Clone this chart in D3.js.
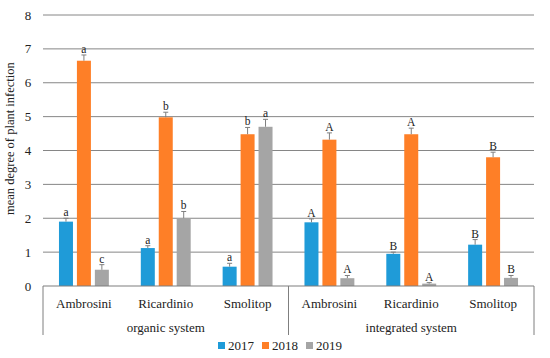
<!DOCTYPE html>
<html>
<head>
<meta charset="utf-8">
<script src="https://cdn.jsdelivr.net/npm/d3@7"></script>
<style>
body { margin: 0; background: #fff; }
text { font-family: "Liberation Serif", "DejaVu Serif", serif; fill: #222; }
</style>
</head>
<body>
<svg id="chart" width="550" height="358"></svg>
<script>
// data
const varieties = ['Ambrosini', 'Ricardinio', 'Smolitop', 'Ambrosini', 'Ricardinio', 'Smolitop'];
const systems = ['organic system', 'integrated system'];
const years = ['2017', '2018', '2019'];
const v2017 = [1.9, 1.12, 0.57, 1.88, 0.95, 1.22];
const v2018 = [6.65, 4.98, 4.48, 4.32, 4.48, 3.8];
const v2019 = [0.48, 2.0, 4.7, 0.23, 0.07, 0.24];
const e2017 = [0.1, 0.07, 0.1, 0.1, 0.05, 0.15];
const e2018 = [0.17, 0.15, 0.2, 0.2, 0.18, 0.15];
const e2019 = [0.15, 0.2, 0.22, 0.08, 0.03, 0.07];
const l2017 = ['a', 'a', 'a', 'A', 'B', 'B'];
const l2018 = ['a', 'b', 'b', 'A', 'A', 'B'];
const l2019 = ['c', 'b', 'a', 'A', 'A', 'B'];
const yTicks = [0, 1, 2, 3, 4, 5, 6, 7, 8];

const colors = { '2017': '#1f9bd8', '2018': '#fe7f27', '2019': '#a5a5a5' };

const margin = { left: 43, right: 16, top: 15, bottom: 72 };
const W = 550, H = 358;
const svg = d3.select('#chart');

const x = d3.scaleBand()
    .domain(d3.range(varieties.length))
    .range([margin.left, W - margin.right]);
const xi = d3.scaleBand()
    .domain(years)
    .range([0, x.bandwidth()])
    .paddingInner(0.22)
    .paddingOuter(0.89);
const y = d3.scaleLinear().domain([0, 8]).range([H - margin.bottom, margin.top]);

const rows = [];
const vals = { '2017': v2017, '2018': v2018, '2019': v2019 };
const errs = { '2017': e2017, '2018': e2018, '2019': e2019 };
const lets = { '2017': l2017, '2018': l2018, '2019': l2019 };
varieties.forEach((v, i) => {
    years.forEach(yr => {
        rows.push({ i, yr, v: vals[yr][i], e: errs[yr][i], l: lets[yr][i] });
    });
});

// gridlines
svg.append('g').selectAll('line').data(yTicks.slice(1)).join('line')
    .attr('x1', margin.left).attr('x2', W - margin.right)
    .attr('y1', d => y(d)).attr('y2', d => y(d))
    .attr('stroke', '#868686').attr('stroke-width', 1);

// y tick labels
svg.append('g').selectAll('text').data(yTicks).join('text')
    .attr('x', 28).attr('y', d => y(d) + 4.5)
    .attr('text-anchor', 'middle')
    .attr('font-size', 13)
    .text(d => d);

// y title
svg.append('text')
    .attr('transform', `translate(14,${y(4.35)}) rotate(-90)`)
    .attr('text-anchor', 'middle')
    .attr('font-size', 12.5)
    .text('mean degree of plant infection');

// bars
const g = svg.append('g');
g.selectAll('rect').data(rows).join('rect')
    .attr('x', d => x(d.i) + xi(d.yr))
    .attr('width', xi.bandwidth())
    .attr('y', d => y(d.v))
    .attr('height', d => y(0) - y(d.v))
    .attr('fill', d => colors[d.yr]);

// error bars (upper only)
const eb = svg.append('g').attr('stroke', '#7f7f7f').attr('stroke-width', 1);
rows.forEach(d => {
    const cx = x(d.i) + xi(d.yr) + xi.bandwidth() / 2;
    eb.append('line').attr('x1', cx).attr('x2', cx).attr('y1', y(d.v)).attr('y2', y(d.v + d.e));
    eb.append('line').attr('x1', cx - 2.5).attr('x2', cx + 2.5).attr('y1', y(d.v + d.e)).attr('y2', y(d.v + d.e));
});

// significance letters
svg.append('g').selectAll('text').data(rows).join('text')
    .attr('x', d => x(d.i) + xi(d.yr) + xi.bandwidth() / 2)
    .attr('y', d => y(d.v + d.e) - 2)
    .attr('text-anchor', 'middle')
    .attr('font-size', 11.5)
    .text(d => d.l);

// x axis line + separators
const axisY = y(0);
svg.append('line')
    .attr('x1', margin.left).attr('x2', W - margin.right)
    .attr('y1', axisY).attr('y2', axisY)
    .attr('stroke', '#7f7f7f').attr('stroke-width', 1.2);
[0, 3, 6].forEach(k => {
    const sx = k < 6 ? x(k) : x(5) + x.bandwidth();
    svg.append('line')
        .attr('x1', sx).attr('x2', sx)
        .attr('y1', axisY).attr('y2', 335)
        .attr('stroke', '#7f7f7f').attr('stroke-width', 1);
});

// category labels
svg.append('g').selectAll('text').data(varieties).join('text')
    .attr('x', (d, i) => x(i) + x.bandwidth() / 2)
    .attr('y', 308)
    .attr('text-anchor', 'middle')
    .attr('font-size', 13)
    .text(d => d);

svg.append('g').selectAll('text').data(systems).join('text')
    .attr('x', (d, i) => (x(i * 3) + x(i * 3 + 2) + x.bandwidth()) / 2)
    .attr('y', 332)
    .attr('text-anchor', 'middle')
    .attr('font-size', 13)
    .text(d => d);

// legend
const lg = svg.append('g');
years.forEach((yr, k) => {
    const lx = 218 + k * 44;
    lg.append('rect').attr('x', lx).attr('y', 342).attr('width', 7).attr('height', 7).attr('fill', colors[yr]);
    lg.append('text').attr('x', lx + 10).attr('y', 350).attr('font-size', 13).text(yr);
});
</script>
</body>
</html>
